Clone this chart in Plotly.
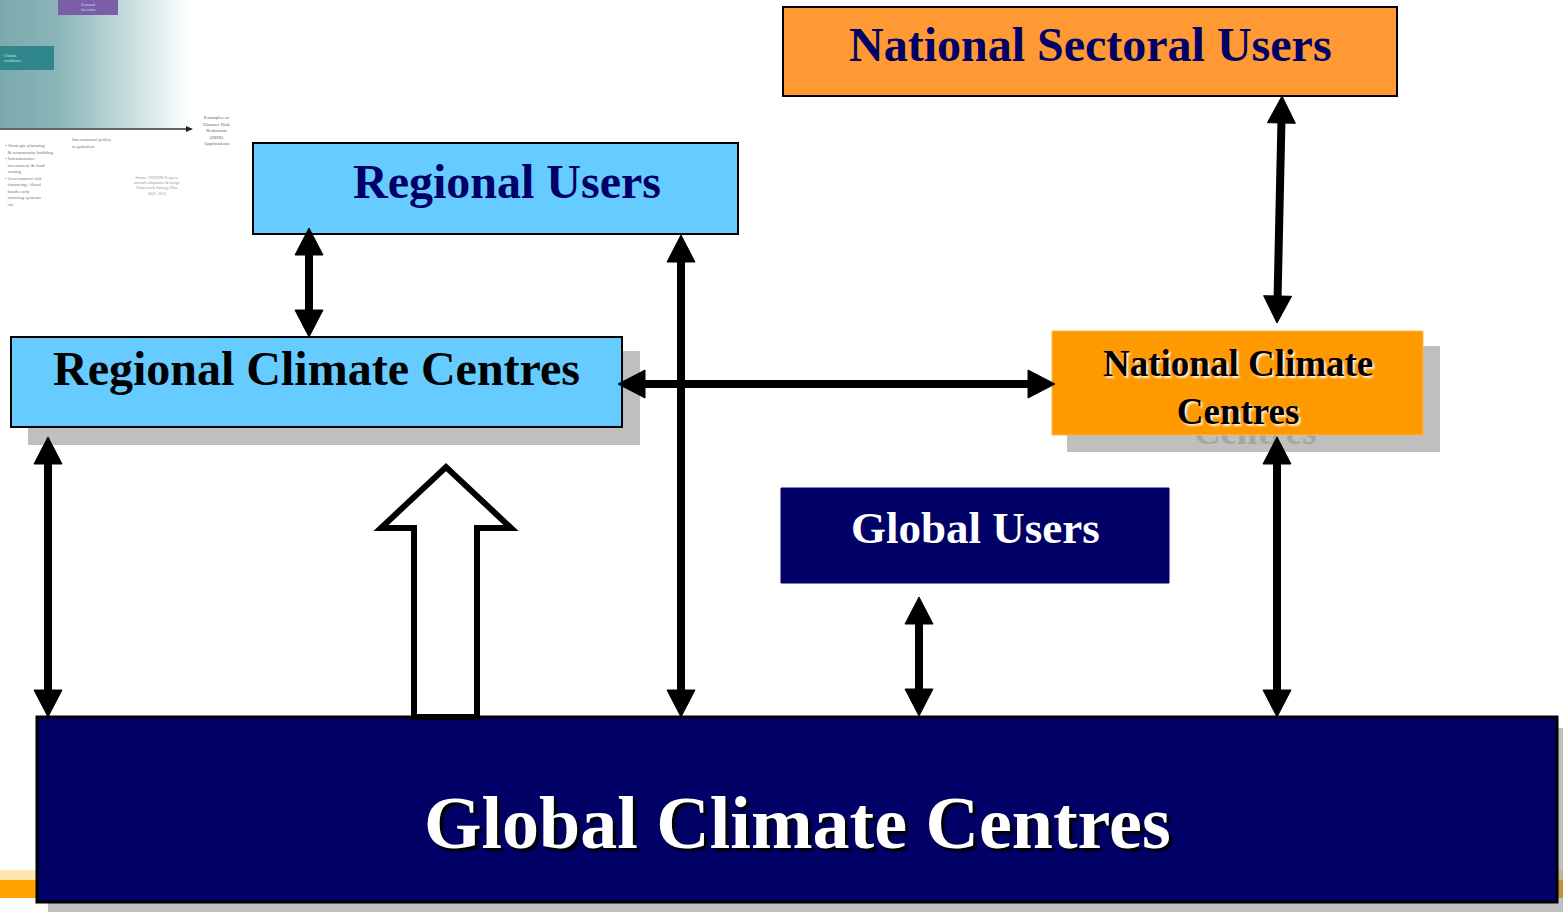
import plotly.graph_objects as go

W, H = 1563, 913

# ---------------- content (labels) ----------------
box_labels = [
    "National Sectoral Users",
    "Regional Users",
    "Regional Climate Centres",
    "National Climate<br>Centres",
    "Global Users",
    "Global Climate Centres",
]
ghost_label = "Centres"
thumb_labels = [
    "Examples of<br>Disaster Risk<br>Reduction<br>(DRR)<br>Applications",
    "• Strategic planning<br>  & community building<br>• Infrastructure<br>  investment & land<br>  zoning<br>• Government risk<br>  financing / flood<br>  funds early<br>  warning systems<br>  etc.",
    "International policy<br>negotiation",
    "Source: UNISDR Progress<br>towards adaptation & hyogo<br>Framework Strategy Plan<br>2007–2013",
    "Seasonal<br>forecasts",
    "Climate<br>conditions",
]

# ---------------- layout (pixel geometry) ----------------
boxes = [
    dict(x0=783, x1=1397, y0=7, y1=96, fill="#FF9933", line="#000000", lw=2,
         tx=1090, ty=44, size=48, color="#000066", shadow="none", shad=None),
    dict(x0=253, x1=738, y0=143, y1=234, fill="#66CCFF", line="#000000", lw=2,
         tx=507, ty=181, size=48, color="#000066", shadow="none", shad=None),
    dict(x0=11, x1=622, y0=337, y1=427, fill="#66CCFF", line="#000000", lw=2,
         tx=316, ty=368, size=48, color="#000000", shadow="none", shad=(28, 351, 640, 445)),
    dict(x0=1052, x1=1423, y0=331, y1=435, fill="#FF9900", line="#FFB84D", lw=1,
         tx=1238, ty=387, size=37, color="#000000", shadow="2px 2px 2px #FFF6E0",
         shad=(1067, 346, 1440, 452)),
    dict(x0=781, x1=1169, y0=488, y1=583, fill="#000066", line="#000066", lw=1,
         tx=975, ty=528, size=45, color="#FFFFFF", shadow="none", shad=None),
    dict(x0=37, x1=1557, y0=717, y1=902, fill="#000066", line="#000000", lw=3,
         tx=797, ty=823, size=74, color="#FFFFFF", shadow="3px 3px 2px #000000",
         shad=(48, 728, 1563, 912)),
]

arrows = [
    ((309, 228), (309, 337)),
    ((681, 235), (681, 717)),
    ((618, 384), (1055, 384)),
    ((1282, 96), (1277, 323)),
    ((1277, 437), (1277, 717)),
    ((919, 597), (919, 716)),
    ((48, 437), (48, 717)),
]
HEAD_L, HEAD_W, SHAFT = 27, 28, 8

hollow_arrow = [(414, 717), (414, 528), (381, 528), (446, 467), (511, 528),
                (477, 528), (477, 717)]

FONT = "Times New Roman, Liberation Serif, serif"

shapes = []
annotations = []

# ---------- background: slide footer stripe ----------
shapes.append(dict(type="rect", xref="x", yref="y", x0=0, x1=W, y0=870, y1=880,
                   fillcolor="#FFE6B0", line=dict(width=0), layer="below"))
shapes.append(dict(type="rect", xref="x", yref="y", x0=0, x1=W, y0=880, y1=898,
                   fillcolor="#FFA200", line=dict(width=0), layer="below"))

# ---------- faded thumbnail in top-left ----------
def lerp(a, b, t):
    return tuple(int(round(a[i] + (b[i] - a[i]) * t)) for i in range(3))

stops = [(0, (122, 170, 173)), (60, (140, 182, 185)), (190, (255, 255, 255))]
step = 5
for xs in range(0, 190, step):
    xm = xs + step / 2
    for (xa, ca), (xb, cb) in zip(stops[:-1], stops[1:]):
        if xa <= xm <= xb:
            c = lerp(ca, cb, (xm - xa) / (xb - xa))
            break
    shapes.append(dict(type="rect", xref="x", yref="y", x0=xs, x1=xs + step + 0.5,
                       y0=0, y1=128, fillcolor="rgb(%d,%d,%d)" % c,
                       line=dict(width=0), layer="below"))
shapes.append(dict(type="rect", xref="x", yref="y", x0=58, x1=118, y0=0, y1=15,
                   fillcolor="#7B5EA8", line=dict(width=0), layer="below"))
shapes.append(dict(type="rect", xref="x", yref="y", x0=0, x1=54, y0=46, y1=70,
                   fillcolor="#2F878C", line=dict(width=0), layer="below"))
shapes.append(dict(type="line", xref="x", yref="y", x0=0, x1=187, y0=129, y1=129,
                   line=dict(color="#333333", width=1.5), layer="below"))
shapes.append(dict(type="path", xref="x", yref="y",
                   path="M 186 126 L 193 129 L 186 132 Z", fillcolor="#222222",
                   line=dict(width=0), layer="below"))
thumb_pos = [
    dict(x=216, y=130, size=5, color="#666666", xanchor="center", align="center"),
    dict(x=3, y=175, size=5, color="#777777", xanchor="left", align="left"),
    dict(x=70, y=143, size=5, color="#777777", xanchor="left", align="left"),
    dict(x=156, y=185, size=4, color="#999999", xanchor="center", align="center"),
    dict(x=88, y=7, size=4, color="#DDD6EE", xanchor="center", align="center"),
    dict(x=2, y=58, size=4, color="#CFE6E6", xanchor="left", align="left"),
]
for p, lab in zip(thumb_pos, thumb_labels):
    annotations.append(dict(x=p["x"], y=p["y"], text=lab, showarrow=False,
                            xanchor=p["xanchor"], yanchor="middle", align=p["align"],
                            font=dict(size=p["size"], color=p["color"], family=FONT)))

# ---------- shadows ----------
for b in boxes:
    if b["shad"]:
        sx0, sy0, sx1, sy1 = b["shad"]
        shapes.append(dict(type="rect", xref="x", yref="y", x0=sx0, x1=sx1, y0=sy0, y1=sy1,
                           fillcolor="rgba(128,128,128,0.5)", line=dict(width=0),
                           layer="below"))

# ---------- boxes ----------
for b in boxes:
    shapes.append(dict(type="rect", xref="x", yref="y", x0=b["x0"], x1=b["x1"],
                       y0=b["y0"], y1=b["y1"], fillcolor=b["fill"],
                       line=dict(color=b["line"], width=b["lw"]), layer="above"))

# ---------- double-headed arrows ----------
def head(tip, d):
    tx, ty = tip
    dx, dy = d
    bx, by = tx - dx * HEAD_L, ty - dy * HEAD_L
    px, py = -dy, dx
    hw = HEAD_W / 2
    return ("M %.1f %.1f L %.1f %.1f L %.1f %.1f Z" %
            (tx, ty, bx + px * hw, by + py * hw, bx - px * hw, by - py * hw)), (bx, by)

for (p1, p2) in arrows:
    vx, vy = p2[0] - p1[0], p2[1] - p1[1]
    n = (vx * vx + vy * vy) ** 0.5
    ux, uy = vx / n, vy / n
    path1, b1 = head(p1, (-ux, -uy))
    path2, b2 = head(p2, (ux, uy))
    shapes.append(dict(type="line", xref="x", yref="y",
                       x0=b1[0] - ux * 2, y0=b1[1] - uy * 2,
                       x1=b2[0] + ux * 2, y1=b2[1] + uy * 2,
                       line=dict(color="#000000", width=SHAFT), layer="above"))
    for pth in (path1, path2):
        shapes.append(dict(type="path", xref="x", yref="y", path=pth,
                           fillcolor="#000000", line=dict(color="#000000", width=1),
                           layer="above"))

# ---------- hollow block arrow ----------
hp = "M " + " L ".join("%d %d" % p for p in hollow_arrow) + " Z"
shapes.append(dict(type="path", xref="x", yref="y", path=hp, fillcolor="#FFFFFF",
                   line=dict(color="#000000", width=6), layer="above"))

# ---------- box labels ----------
for b, lab in zip(boxes, box_labels):
    annotations.append(dict(
        x=b["tx"], y=b["ty"], text=lab, showarrow=False,
        xanchor="center", yanchor="middle", align="center",
        font=dict(family=FONT, size=b["size"], color=b["color"], weight="bold",
                  shadow=b["shadow"]),
    ))

fig = go.Figure()
# ghost text behind the national-centre box (visible in its drop shadow)
fig.add_trace(go.Scatter(
    x=[1255], y=[435], mode="text", text=[ghost_label],
    textfont=dict(family=FONT, size=37, color="#A6A6A6", weight="bold"),
    hoverinfo="skip", showlegend=False,
))

fig.update_layout(
    width=W, height=H, autosize=False,
    margin=dict(l=0, r=0, t=0, b=0, pad=0),
    paper_bgcolor="#FFFFFF", plot_bgcolor="#FFFFFF",
    xaxis=dict(range=[0, W], visible=False, fixedrange=True),
    yaxis=dict(range=[H, 0], visible=False, fixedrange=True),
    shapes=shapes, annotations=annotations, showlegend=False,
)

fig.write_html(
    "out.html",
    config={"displayModeBar": False},
    post_script="document.body.style.margin='0';document.body.style.overflow='hidden';",
)
